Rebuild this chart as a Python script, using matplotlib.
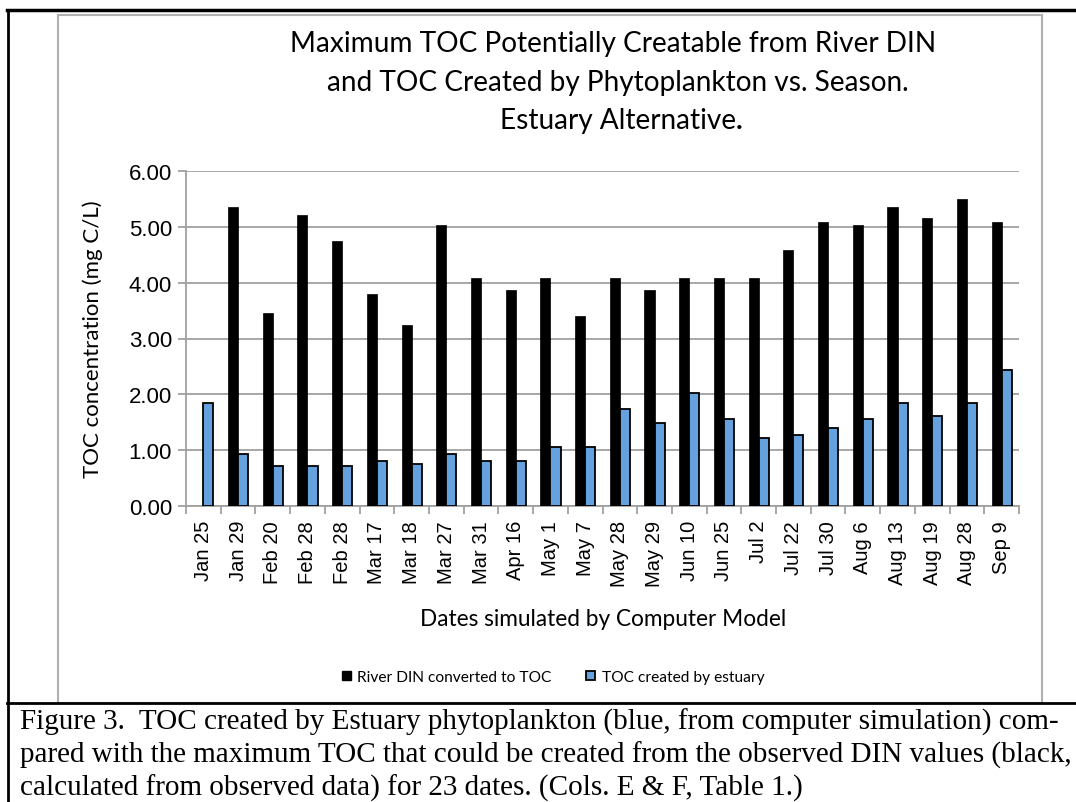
import numpy as np
import matplotlib
matplotlib.use("Agg")
import matplotlib.pyplot as plt
from matplotlib.patches import Patch, Rectangle
from matplotlib.lines import Line2D

# data
dates = ["Jan 25", "Jan 29", "Feb 20", "Feb 28", "Feb 28", "Mar 17", "Mar 18",
         "Mar 27", "Mar 31", "Apr 16", "May 1", "May 7", "May 28", "May 29",
         "Jun 10", "Jun 25", "Jul 2", "Jul 22", "Jul 30", "Aug 6", "Aug 13",
         "Aug 19", "Aug 28", "Sep 9"]
river_din = [0.0, 5.36, 3.46, 5.21, 4.75, 3.80, 3.24, 5.03, 4.09, 3.87, 4.09,
             3.40, 4.09, 3.87, 4.09, 4.09, 4.09, 4.59, 5.09, 5.03, 5.36, 5.15,
             5.50, 5.09]
toc_estuary = [1.84, 0.93, 0.72, 0.72, 0.72, 0.81, 0.75, 0.93, 0.81, 0.81, 1.06,
               1.05, 1.74, 1.49, 2.03, 1.56, 1.21, 1.27, 1.40, 1.56, 1.84, 1.62,
               1.84, 2.43]
yticks = [0, 1, 2, 3, 4, 5, 6]

W, H = 1076, 803
fig = plt.figure(figsize=(W / 100, H / 100), dpi=100)

def fx(px):
    return px / W

def fy(py):
    return 1 - py / H

calibri = ["Lato", "DejaVu Sans"]
arial = ["Liberation Sans", "DejaVu Sans"]
grey = "#a0a0a0"
blue = "#65a1dd"

ax = fig.add_axes([fx(186), fy(507), fx(1019) - fx(186), fy(172) - fy(507)])

n = len(dates)
x = np.arange(n)
bw = 0.29
ax.bar(x - bw / 2, river_din, width=bw, color="black", edgecolor="black",
       linewidth=0.5, zorder=3)
ax.bar(x + bw / 2, toc_estuary, width=bw, color=blue, edgecolor="black",
       linewidth=1.3, zorder=3)

ax.set_xlim(-0.5, n - 0.5)
ax.set_ylim(0, 6)
ax.set_yticks(yticks)
ax.set_yticklabels([f"{v:.2f}" for v in yticks], fontfamily=arial, fontsize=16)
ax.yaxis.grid(True, color=grey, linewidth=1.3, zorder=0)
ax.set_axisbelow(True)

ax.set_xticks(x)
ax.set_xticklabels(dates, rotation=90, fontfamily=arial, fontsize=14.5)
ax.set_xticks(np.arange(-0.5, n, 1), minor=True)
ax.tick_params(axis="x", which="major", length=0, pad=10)
ax.tick_params(axis="x", which="minor", length=6, color=grey, width=1.3)
ax.tick_params(axis="y", length=6, color=grey, width=1.3, pad=4)

for s in ["top", "right"]:
    ax.spines[s].set_visible(False)
for s in ["left", "bottom"]:
    ax.spines[s].set_color(grey)
    ax.spines[s].set_linewidth(1.3)

ax.set_ylabel("TOC concentration (mg C/L)", fontfamily=calibri, fontsize=16)
ax.yaxis.set_label_coords(fx(103 - 186) / (fx(1019) - fx(186)), 0.5)

fig.text(fx(603), fy(620), "Dates simulated by Computer Model",
         fontfamily=calibri, fontsize=16.3, ha="center", va="center")

# title
fig.text(fx(613), fy(44), "Maximum TOC Potentially Creatable from River DIN",
         fontfamily=calibri, fontsize=20.2, ha="center", va="center")
fig.text(fx(618), fy(83), "and TOC Created by Phytoplankton vs. Season.",
         fontfamily=calibri, fontsize=20.2, ha="center", va="center")
fig.text(fx(736), fy(121), "Estuary Alternative",
         fontfamily=calibri, fontsize=20.2, ha="right", va="center")
fig.text(fx(736), fy(121), ".", fontfamily=calibri, fontsize=20.2,
         fontweight="bold", ha="left", va="center")

# legend
handles = [Patch(facecolor="black", edgecolor="black"),
           Patch(facecolor=blue, edgecolor="black", linewidth=1.3)]
fig.legend(handles, ["River DIN converted to TOC", "TOC created by estuary"],
           loc="center", bbox_to_anchor=(fx(553), fy(678)), ncol=2,
           frameon=False, prop={"family": calibri, "size": 11.2},
           handlelength=0.6, handleheight=0.6, handletextpad=0.4,
           columnspacing=2.2)

# chart frame and page borders
fig.add_artist(Rectangle((fx(58), fy(704)), fx(1042) - fx(58), fy(16) - fy(704),
                         transform=fig.transFigure, fill=False,
                         edgecolor="#b0b0b0", linewidth=1.5))
fig.add_artist(Line2D([fx(7), 1], [fy(11), fy(11)], color="black", linewidth=2.5,
                      transform=fig.transFigure))
fig.add_artist(Line2D([fx(7.5), fx(7.5)], [fy(11), 0], color="black",
                      linewidth=2, transform=fig.transFigure))
fig.add_artist(Line2D([fx(7), 1], [fy(704), fy(704)], color="black",
                      linewidth=2, transform=fig.transFigure))

# caption
caption = [
    "Figure 3.  TOC created by Estuary phytoplankton (blue, from computer simulation) com-",
    "pared with the maximum TOC that could be created from the observed DIN values (black,",
    "calculated from observed data) for 23 dates. (Cols. E & F, Table 1.)",
]
for i, line in enumerate(caption):
    fig.text(fx(20), fy(722 + 33 * i), line, fontfamily=["Liberation Serif"],
             fontsize=21, ha="left", va="center")

fig.savefig("out.png", dpi=100)
